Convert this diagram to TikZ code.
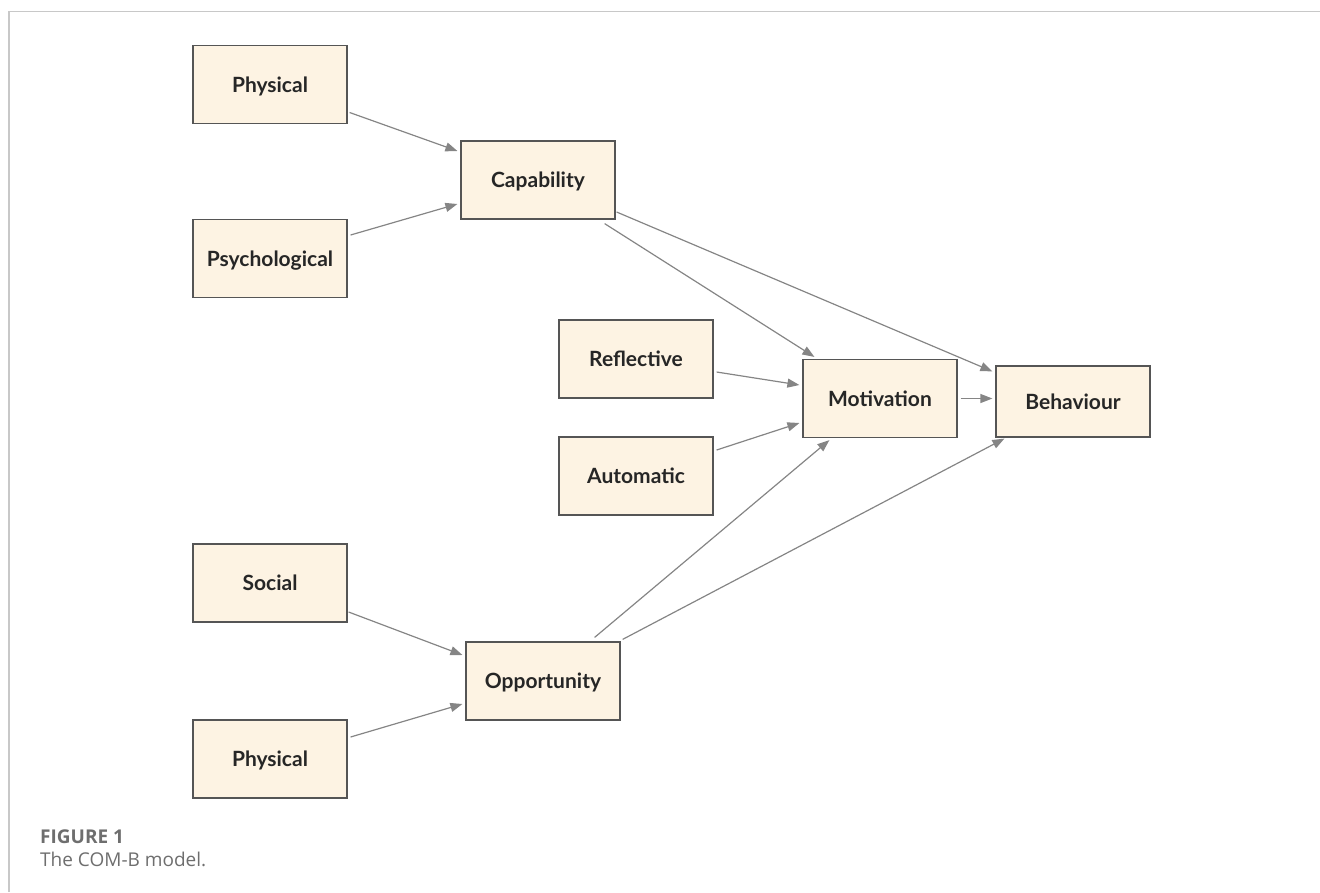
\documentclass[tikz,border=0pt]{standalone}
\usepackage{fontspec}
\setmainfont{Lato}
\newfontfamily\capfont{Open Sans}
\usetikzlibrary{arrows.meta}
\definecolor{boxfill}{HTML}{FDF3E3}
\definecolor{boxline}{HTML}{555555}
\definecolor{arrowgray}{HTML}{858585}
\definecolor{framegray}{HTML}{C8C8C8}
\definecolor{capgray}{HTML}{6E6E6E}
\tikzset{
  combox/.style={draw=boxline, line width=1.2pt, fill=boxfill, minimum width=154pt, minimum height=78pt,
    inner sep=0pt, text height=19pt, text depth=4pt, font=\fontsize{21}{24}\selectfont\bfseries, text=black!85},
  conn/.style={draw=arrowgray, line width=1.2pt, -{Triangle[length=12pt,width=9pt]}},
}
\begin{document}
\begin{tikzpicture}[x=1pt,y=-1pt]
\useasboundingbox (0,0) rectangle (1320,892);
\draw[framegray, line width=1.5pt] (9,892) -- (9,11.5) -- (1320,11.5);

\node[combox] (phys1) at (270,84.5) {Physical};
\node[combox] (psych) at (270,258.5) {Psychological};
\node[combox] (cap) at (538,180) {Capability};
\node[combox] (refl) at (636,359) {Reflective};
\node[combox] (auto) at (636,476) {Automatic};
\node[combox] (mot) at (880,398.5) {Motivation};
\node[combox, minimum height=71pt] (beh) at (1073,401.5) {Behaviour};
\node[combox] (soc) at (270,583) {Social};
\node[combox] (opp) at (543,681) {Opportunity};
\node[combox] (phys2) at (270,759) {Physical};

\draw[conn] ([xshift=2pt,yshift=-28pt]phys1.east) -- ([xshift=-3pt,yshift=29pt]cap.west);
\draw[conn] ([xshift=3pt,yshift=23.5pt]psych.east) -- ([xshift=-3pt,yshift=-24pt]cap.west);
\draw[conn] ([xshift=1pt,yshift=-32pt]cap.east) -- ([xshift=-3pt,yshift=-6pt]beh.north west);
\draw[conn] ([xshift=-11pt,yshift=-4pt]cap.south east) -- ([xshift=12pt,yshift=2pt]mot.north west);
\draw[conn] ([xshift=3pt,yshift=-13pt]refl.east) -- ([xshift=-3pt,yshift=13.5pt]mot.west);
\draw[conn] ([xshift=3pt,yshift=26pt]auto.east) -- ([xshift=-3pt,yshift=-24.5pt]mot.west);
\draw[conn] ([xshift=3pt]mot.east) -- ([xshift=-3pt]mot.east -| beh.west);
\draw[conn] ([xshift=-26pt,yshift=4pt]opp.north east) -- ([xshift=27pt,yshift=-2pt]mot.south west);
\draw[conn] ([xshift=2pt,yshift=2pt]opp.north east) -- ([xshift=9pt,yshift=-1pt]beh.south west);
\draw[conn] ([xshift=1pt,yshift=-29pt]soc.east) -- ([xshift=-3pt,yshift=26pt]opp.west);
\draw[conn] ([xshift=3pt,yshift=22pt]phys2.east) -- ([xshift=-3pt,yshift=-23pt]opp.west);

\node[anchor=base west, inner sep=0pt, text=capgray, font=\capfont\fontsize{19}{22}\selectfont\bfseries] (figlabel) at (40,843) {FIGURE 1};
\node[anchor=base west, inner sep=0pt, text=capgray, font=\capfont\fontsize{19}{22}\selectfont] (figcap) at (40,866) {The COM-B model.};
\end{tikzpicture}
\end{document}
